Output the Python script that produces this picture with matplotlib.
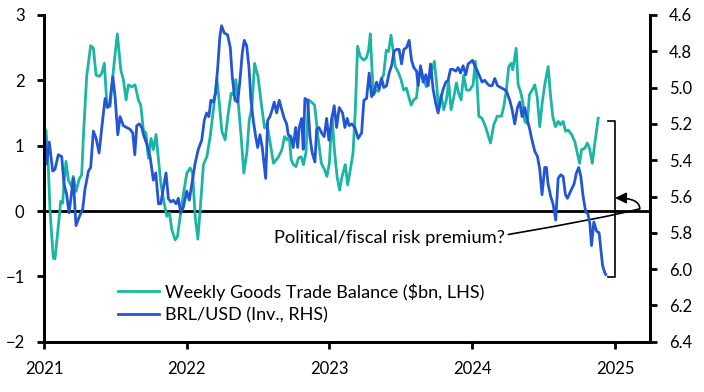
import matplotlib
matplotlib.use("Agg")
import matplotlib.pyplot as plt
from matplotlib.path import Path
from matplotlib.patches import PathPatch, FancyArrowPatch

plt.rcParams['font.family'] = ['Lato', 'DejaVu Sans']

# weekly goods trade balance, $bn (LHS)
trade_t = [2021.000, 2021.014, 2021.030, 2021.042, 2021.065, 2021.077, 2021.100, 2021.117, 2021.131, 2021.140,
           2021.154, 2021.170, 2021.194, 2021.205, 2021.224, 2021.248, 2021.264, 2021.276, 2021.299, 2021.327,
           2021.346, 2021.365, 2021.388, 2021.405, 2021.423, 2021.440, 2021.463, 2021.491, 2021.514, 2021.538,
           2021.556, 2021.575, 2021.591, 2021.615, 2021.638, 2021.661, 2021.678, 2021.696, 2021.715, 2021.731,
           2021.750, 2021.766, 2021.785, 2021.802, 2021.818, 2021.842, 2021.860, 2021.879, 2021.896, 2021.919,
           2021.935, 2021.954, 2021.977, 2022.001, 2022.024, 2022.041, 2022.059, 2022.078, 2022.094, 2022.117,
           2022.141, 2022.164, 2022.187, 2022.211, 2022.222, 2022.246, 2022.269, 2022.288, 2022.311, 2022.327,
           2022.344, 2022.363, 2022.381, 2022.400, 2022.421, 2022.438, 2022.457, 2022.475, 2022.499, 2022.522,
           2022.545, 2022.562, 2022.585, 2022.608, 2022.625, 2022.643, 2022.667, 2022.685, 2022.702, 2022.718,
           2022.732, 2022.748, 2022.765, 2022.783, 2022.802, 2022.818, 2022.835, 2022.853, 2022.872, 2022.896,
           2022.919, 2022.943, 2022.966, 2022.982, 2022.999, 2023.018, 2023.034, 2023.053, 2023.071, 2023.088,
           2023.111, 2023.127, 2023.146, 2023.165, 2023.181, 2023.197, 2023.216, 2023.239, 2023.258, 2023.274,
           2023.286, 2023.298, 2023.309, 2023.328, 2023.344, 2023.361, 2023.379, 2023.398, 2023.414, 2023.431,
           2023.445, 2023.461, 2023.485, 2023.501, 2023.520, 2023.539, 2023.555, 2023.572, 2023.590, 2023.609,
           2023.625, 2023.642, 2023.660, 2023.679, 2023.695, 2023.714, 2023.735, 2023.749, 2023.765, 2023.782,
           2023.800, 2023.819, 2023.835, 2023.852, 2023.870, 2023.889, 2023.905, 2023.922, 2023.940, 2023.959,
           2023.982, 2024.006, 2024.022, 2024.034, 2024.046, 2024.069, 2024.093, 2024.128, 2024.151, 2024.175,
           2024.205, 2024.221, 2024.238, 2024.256, 2024.273, 2024.284, 2024.308, 2024.322, 2024.338, 2024.354,
           2024.368, 2024.385, 2024.401, 2024.420, 2024.438, 2024.455, 2024.473, 2024.490, 2024.508, 2024.532,
           2024.548, 2024.564, 2024.583, 2024.602, 2024.618, 2024.637, 2024.654, 2024.672, 2024.696, 2024.719,
           2024.736, 2024.752, 2024.766, 2024.789, 2024.806, 2024.822, 2024.841, 2024.859, 2024.883]
trade_v = [0.37, 1.24, 0.68, 0.02, -0.72, -0.73, -0.24, 0.15, 0.12, 0.43,
           0.76, 0.48, 0.37, 0.53, 0.30, 0.50, 0.55, 1.14, 2.06, 2.53,
           2.49, 2.08, 2.06, 2.11, 2.26, 1.65, 1.60, 2.26, 2.71, 2.16,
           2.01, 1.70, 1.93, 1.90, 1.93, 1.70, 1.62, 1.24, 1.19, 0.81,
           1.11, 0.94, 1.17, 0.78, 0.43, 0.12, -0.08, -0.03, -0.29, -0.44,
           -0.39, -0.08, 0.27, 0.58, 0.66, 0.58, -0.08, -0.43, 0.02, 0.71,
           0.83, 1.14, 1.55, 2.03, 1.80, 1.22, 1.09, 1.45, 1.80, 1.78,
           2.01, 1.60, 1.14, 0.58, 0.89, 1.39, 1.60, 2.26, 2.06, 1.65,
           1.27, 1.34, 1.04, 0.73, 0.78, 0.83, 0.94, 1.14, 1.09, 1.14,
           0.78, 0.71, 0.68, 0.81, 0.83, 0.71, 0.89, 1.70, 1.67, 1.62,
           1.14, 0.73, 0.63, 0.53, 0.73, 1.47, 0.94, 0.53, 0.32, 0.53,
           0.71, 0.40, 0.63, 0.89, 1.55, 2.52, 2.36, 2.31, 2.34, 2.46,
           2.71, 2.16, 1.78, 1.85, 1.83, 2.01, 2.08, 2.46, 2.44, 2.69,
           2.46, 2.21, 2.11, 2.01, 1.85, 1.88, 1.75, 1.62, 1.70, 1.73,
           2.03, 2.16, 2.01, 1.90, 2.01, 2.13, 2.29, 1.98, 1.55, 1.78,
           1.55, 1.70, 1.98, 1.55, 1.73, 1.96, 1.80, 1.70, 2.08, 1.85,
           1.85, 1.93, 2.29, 1.96, 1.45, 1.42, 1.29, 1.04, 1.32, 1.45,
           1.45, 1.60, 1.83, 2.21, 2.26, 2.16, 2.49, 1.93, 1.83, 1.67,
           1.37, 1.34, 1.78, 1.85, 1.93, 1.75, 1.29, 1.65, 1.93, 2.21,
           1.78, 1.45, 1.29, 1.37, 1.32, 1.37, 1.22, 1.24, 1.17, 1.06,
           0.89, 0.73, 0.94, 0.96, 1.04, 0.96, 0.73, 1.04, 1.42]

# BRL/USD (RHS, inverted)
brl_t = [2021.000, 2021.019, 2021.037, 2021.061, 2021.077, 2021.100, 2021.124, 2021.140, 2021.159, 2021.175,
         2021.187, 2021.205, 2021.224, 2021.248, 2021.271, 2021.287, 2021.311, 2021.327, 2021.346, 2021.365,
         2021.386, 2021.405, 2021.428, 2021.444, 2021.458, 2021.482, 2021.498, 2021.517, 2021.533, 2021.556,
         2021.580, 2021.603, 2021.622, 2021.636, 2021.650, 2021.668, 2021.685, 2021.701, 2021.720, 2021.743,
         2021.766, 2021.783, 2021.802, 2021.818, 2021.837, 2021.855, 2021.871, 2021.888, 2021.906, 2021.925,
         2021.941, 2021.958, 2021.976, 2022.000, 2022.018, 2022.042, 2022.058, 2022.081, 2022.105, 2022.123,
         2022.139, 2022.155, 2022.169, 2022.186, 2022.202, 2022.216, 2022.232, 2022.244, 2022.263, 2022.286,
         2022.305, 2022.319, 2022.338, 2022.357, 2022.373, 2022.389, 2022.403, 2022.420, 2022.436, 2022.450,
         2022.466, 2022.483, 2022.497, 2022.513, 2022.529, 2022.553, 2022.567, 2022.583, 2022.599, 2022.613,
         2022.630, 2022.648, 2022.665, 2022.683, 2022.700, 2022.711, 2022.730, 2022.746, 2022.763, 2022.777,
         2022.788, 2022.805, 2022.816, 2022.828, 2022.847, 2022.863, 2022.879, 2022.898, 2022.910, 2022.926,
         2022.945, 2022.963, 2022.980, 2022.996, 2023.015, 2023.033, 2023.050, 2023.068, 2023.092, 2023.108,
         2023.124, 2023.138, 2023.155, 2023.178, 2023.201, 2023.225, 2023.241, 2023.260, 2023.278, 2023.295,
         2023.311, 2023.330, 2023.348, 2023.365, 2023.381, 2023.400, 2023.418, 2023.435, 2023.453, 2023.470,
         2023.488, 2023.505, 2023.521, 2023.540, 2023.558, 2023.575, 2023.591, 2023.610, 2023.621, 2023.638,
         2023.656, 2023.675, 2023.691, 2023.708, 2023.726, 2023.745, 2023.761, 2023.778, 2023.796, 2023.815,
         2023.831, 2023.848, 2023.866, 2023.885, 2023.901, 2023.918, 2023.936, 2023.955, 2023.971, 2023.988,
         2024.002, 2024.018, 2024.037, 2024.053, 2024.069, 2024.088, 2024.107, 2024.123, 2024.139, 2024.158,
         2024.177, 2024.200, 2024.223, 2024.240, 2024.263, 2024.279, 2024.298, 2024.317, 2024.333, 2024.349,
         2024.368, 2024.387, 2024.403, 2024.419, 2024.438, 2024.457, 2024.473, 2024.489, 2024.508, 2024.520,
         2024.531, 2024.550, 2024.566, 2024.585, 2024.602, 2024.620, 2024.637, 2024.653, 2024.667, 2024.690,
         2024.714, 2024.730, 2024.746, 2024.761, 2024.777, 2024.794, 2024.812, 2024.824, 2024.836, 2024.852,
         2024.871, 2024.889, 2024.901, 2024.913, 2024.929, 2024.936]
brl_v = [5.20, 5.42, 5.30, 5.46, 5.45, 5.37, 5.38, 5.53, 5.59, 5.69,
         5.62, 5.50, 5.76, 5.71, 5.67, 5.56, 5.46, 5.44, 5.24, 5.28,
         5.36, 5.22, 5.06, 5.11, 5.10, 4.94, 5.05, 5.26, 5.16, 5.21,
         5.22, 5.23, 5.25, 5.37, 5.21, 5.20, 5.22, 5.27, 5.31, 5.38,
         5.51, 5.47, 5.64, 5.64, 5.55, 5.47, 5.61, 5.63, 5.62, 5.64,
         5.61, 5.69, 5.66, 5.57, 5.62, 5.50, 5.42, 5.34, 5.29, 5.18,
         5.14, 5.16, 5.07, 5.08, 5.03, 4.90, 4.72, 4.66, 4.70, 4.71,
         4.78, 4.94, 5.07, 5.08, 4.96, 4.81, 4.74, 4.77, 4.89, 5.07,
         5.18, 5.27, 5.33, 5.26, 5.33, 5.50, 5.18, 5.16, 5.12, 5.08,
         5.14, 5.07, 5.12, 5.17, 5.20, 5.26, 5.27, 5.33, 5.22, 5.33,
         5.22, 5.17, 5.34, 5.06, 5.07, 5.27, 5.36, 5.41, 5.23, 5.22,
         5.25, 5.27, 5.17, 5.29, 5.18, 5.10, 5.22, 5.11, 5.14, 5.22,
         5.17, 5.21, 5.20, 5.22, 5.28, 5.25, 5.07, 5.06, 4.92, 5.05,
         5.03, 4.97, 5.01, 4.95, 5.00, 4.99, 4.92, 4.88, 4.80, 4.79,
         4.79, 4.87, 4.79, 4.78, 4.74, 4.85, 4.89, 4.91, 4.99, 4.88,
         4.97, 4.93, 4.99, 4.87, 5.01, 5.09, 5.14, 5.07, 5.01, 4.97,
         4.96, 4.90, 4.90, 4.91, 4.89, 4.92, 4.88, 4.93, 4.87, 4.86,
         4.85, 4.88, 4.91, 4.94, 4.97, 4.96, 4.98, 4.99, 4.99, 4.95,
         4.99, 5.00, 5.01, 5.02, 5.07, 5.12, 5.20, 5.11, 5.08, 5.16,
         5.11, 5.18, 5.23, 5.29, 5.35, 5.38, 5.45, 5.59, 5.44, 5.44,
         5.53, 5.60, 5.64, 5.73, 5.50, 5.48, 5.49, 5.59, 5.61, 5.57,
         5.53, 5.47, 5.44, 5.49, 5.60, 5.68, 5.70, 5.75, 5.87, 5.74,
         5.79, 5.80, 5.89, 5.98, 6.02, 6.03]

year_ticks = [2021, 2022, 2023, 2024, 2025]
lhs_ticks = [-2, -1, 0, 1, 2, 3]
rhs_ticks = [4.6, 4.8, 5.0, 5.2, 5.4, 5.6, 5.8, 6.0, 6.2, 6.4]

TEAL = '#1bb5a4'
BLUE = '#2256d4'

fig = plt.figure(figsize=(7.04, 3.92), dpi=100)
ax = fig.add_axes([0.0625, 0.128, 0.8605, 0.834])
ax2 = ax.twinx()

ax.axhline(0, color='black', lw=2, zorder=1)
l1, = ax.plot(trade_t, trade_v, color=TEAL, lw=2, zorder=2,
              label='Weekly Goods Trade Balance ($bn, LHS)')
l2, = ax2.plot(brl_t, brl_v, color=BLUE, lw=2,
               label='BRL/USD (Inv., RHS)')

ax.set_xlim(2021, 2025.244)
ax.set_ylim(-2, 3)
ax2.set_ylim(6.4, 4.6)
ax.set_xticks(year_ticks)
ax.set_xticklabels([str(y) for y in year_ticks])
ax.set_yticks(lhs_ticks)
ax2.set_yticks(rhs_ticks)
ax2.set_yticklabels([f'{v:.1f}' for v in rhs_ticks])

for a in (ax, ax2):
    a.spines['top'].set_visible(False)
    for s in ('left', 'right', 'bottom'):
        a.spines[s].set_linewidth(2)
    a.tick_params(direction='out', length=5, width=2, labelsize=12, pad=9)

# bracket showing the gap between the two series
bx0, bx1 = 2024.95, 2025.0
btop, bbot = 1.37, -1.01
ax.plot([bx0, bx1, bx1, bx0], [btop, btop, bbot, bbot], color='black', lw=1.2, zorder=3)

ax.text(2024.228, -0.49, 'Political/fiscal risk premium?', ha='right', va='baseline', fontsize=13.2)

# connector from text to the right edge, then hooking back to the bracket
hook = (2025.174, 0.034)
verts = [(2024.249, -0.36), (2024.915, -0.11), hook]
ax.add_patch(PathPatch(Path(verts, [Path.MOVETO, Path.CURVE3, Path.CURVE3]),
                       fc='none', ec='black', lw=1.2, zorder=3, clip_on=False))
ax.add_patch(FancyArrowPatch(hook, (2025.0, 0.20),
                             connectionstyle='angle3,angleA=90,angleB=0',
                             arrowstyle='-|>,head_length=0.45,head_width=0.22',
                             mutation_scale=15, color='black', lw=1.2, zorder=3,
                             shrinkA=0, shrinkB=0, clip_on=False))

ax2.legend(handles=[l1, l2], loc='center left', bbox_to_anchor=(0.122, 0.118),
           frameon=False, fontsize=13, handlelength=2.3, handletextpad=0.3,
           labelspacing=0.35, borderpad=0, borderaxespad=0)

fig.savefig('out.png', dpi=100)
